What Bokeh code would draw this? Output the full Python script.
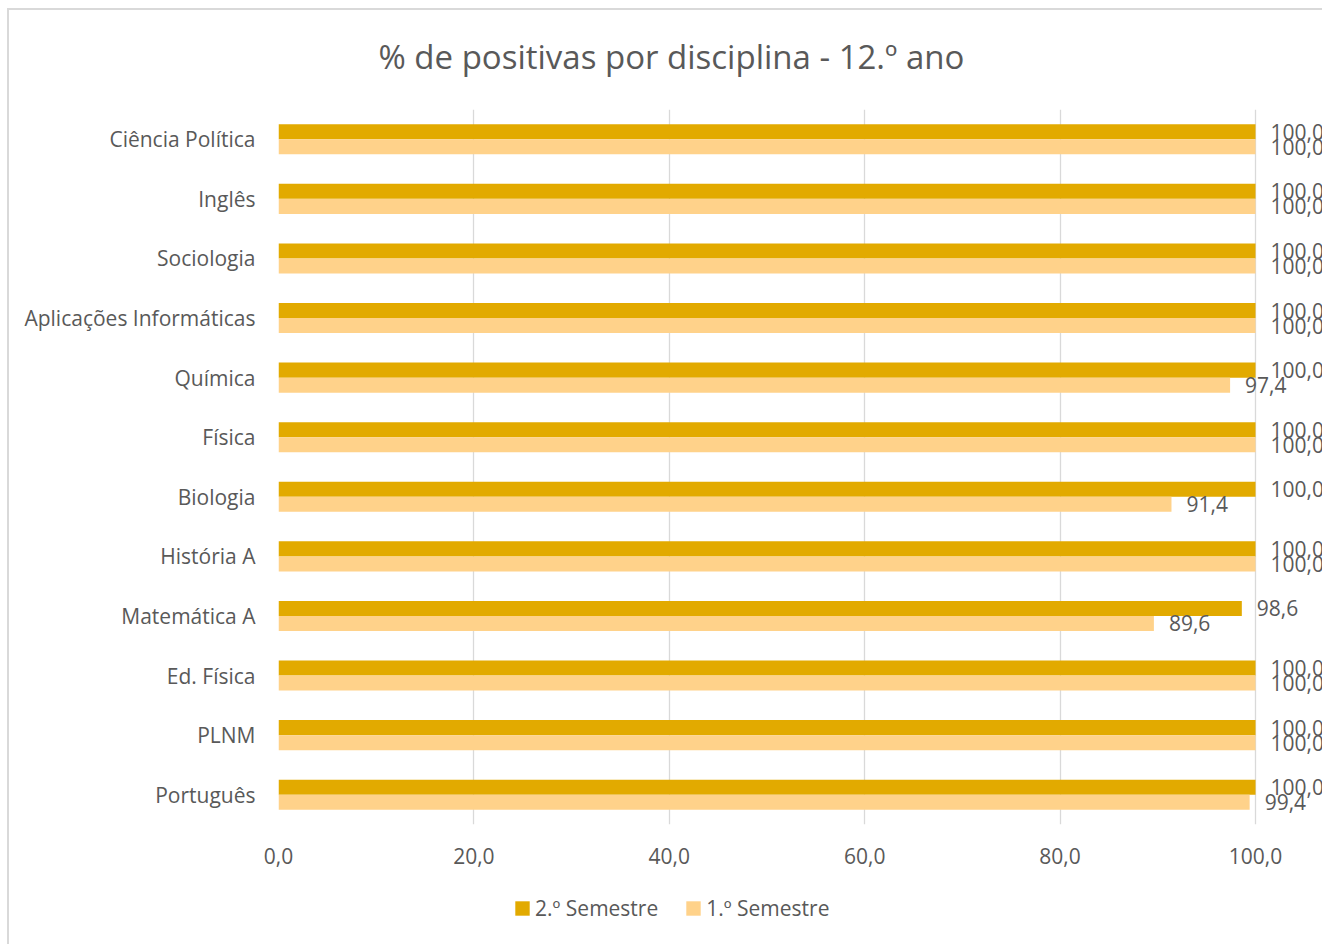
from bokeh.plotting import figure
from bokeh.layouts import column
from bokeh.models import (ColumnDataSource, FactorRange, Range1d, LabelSet, Legend,
                          LegendItem, FixedTicker)
from bokeh.transform import dodge
from bokeh.core.properties import value
from bokeh.embed import file_html
from bokeh.resources import INLINE

# ---- data (bottom to top as drawn) ----
disciplinas = ["Português", "PLNM", "Ed. Física", "Matemática A", "História A",
               "Biologia", "Física", "Química", "Aplicações Informáticas",
               "Sociologia", "Inglês", "Ciência Política"]
sem2 = [100.0, 100.0, 100.0, 98.6, 100.0, 100.0, 100.0, 100.0, 100.0, 100.0, 100.0, 100.0]
sem1 = [99.4, 100.0, 100.0, 89.6, 100.0, 91.4, 100.0, 97.4, 100.0, 100.0, 100.0, 100.0]
x_ticks = [0, 20, 40, 60, 80, 100]
x_tick_labels = ["0,0", "20,0", "40,0", "60,0", "80,0", "100,0"]
series_names = ["2.º Semestre", "1.º Semestre"]
title_text = "% de positivas por disciplina - 12.º ano"

def fmt(v):
    return f"{v:.1f}".replace(".", ",")

src = ColumnDataSource(dict(
    cat=disciplinas, s2=sem2, s1=sem1,
    l2=[fmt(v) for v in sem2], l1=[fmt(v) for v in sem1],
))

DARK = "#E2AA00"
LIGHT = "#FFD28A"
TXT = "#595959"
FONT = "Open Sans"

# frame: 0..100 spans 977px; frame extended to the right edge so value labels show
AXIS_PX = 977
FRAME_W = 1044
x_end = x_ticks[-1] * FRAME_W / AXIS_PX

p = figure(frame_width=FRAME_W, frame_height=715, output_backend="svg",
           toolbar_location=None,
           y_range=FactorRange(factors=disciplinas), x_range=Range1d(0, x_end),
           min_border_left=278, min_border_right=0, min_border_top=108,
           min_border_bottom=57, title=title_text)

p.border_fill_color = None
p.background_fill_color = None

p.title.text_font = FONT
p.title.text_font_size = "33px"
p.title.text_font_style = "normal"
p.title.text_color = TXT
p.title.align = "left"
p.title.offset = 100
p.title.standoff = 62

p.hbar(y=dodge("cat", 0.126, range=p.y_range), right="s2", left=0, height=0.252,
       source=src, fill_color=DARK, line_color=None)
p.hbar(y=dodge("cat", -0.126, range=p.y_range), right="s1", left=0, height=0.252,
       source=src, fill_color=LIGHT, line_color=None)

for col, lab, off in (("s2", "l2", 0.126), ("s1", "l1", -0.126)):
    ls = LabelSet(x=col, y=dodge("cat", off, range=p.y_range), text=lab, source=src,
                  x_offset=15, text_baseline="middle", text_align="left",
                  text_font=value(FONT), text_font_size=value("21px"), text_color=TXT)
    p.add_layout(ls)

p.outline_line_color = None
p.ygrid.grid_line_color = None
p.xgrid.grid_line_color = "#D9D9D9"
p.xgrid.grid_line_width = 1.3

p.xaxis.ticker = FixedTicker(ticks=x_ticks)
p.xaxis.major_label_overrides = dict(zip(x_ticks, x_tick_labels))
for ax in (p.xaxis, p.yaxis):
    ax.axis_line_color = None
    ax.major_tick_line_color = None
    ax.minor_tick_line_color = None
    ax.major_tick_out = 0
    ax.major_tick_in = 0
    ax.minor_tick_out = 0
    ax.major_label_text_font = FONT
    ax.major_label_text_font_size = "21px"
    ax.major_label_text_color = TXT
p.xaxis.major_label_standoff = 23
p.yaxis.major_label_standoff = 23

p.styles = {"box-shadow": "inset 7px 8px 0 0 #FFFFFF, inset 9px 10px 0 0 #D9D9D9"}

# ---- legend strip below the chart (its frame is aligned with the chart's frame) ----
lg = figure(width=1322, height=64, output_backend="svg", toolbar_location=None,
            x_axis_type=None, y_axis_type=None, x_range=Range1d(0, 1), y_range=Range1d(0, 1),
            min_border=0)
lg.border_fill_color = None
lg.background_fill_color = None
lg.outline_line_color = None
lg.grid.visible = False
# zero-width swatch renderers (nothing visible in the strip, only legend glyphs)
sw2 = lg.hbar(y=[-5], left=[0], right=[0], height=0.1, fill_color=DARK, line_color=None)
sw1 = lg.hbar(y=[-5], left=[0], right=[0], height=0.1, fill_color=LIGHT, line_color=None)
legend = Legend(items=[LegendItem(label=series_names[0], renderers=[sw2]),
                       LegendItem(label=series_names[1], renderers=[sw1])],
                orientation="horizontal", location=(235, 23),
                label_text_font=FONT, label_text_font_size="21px", label_text_color=TXT,
                glyph_width=18, glyph_height=18, spacing=26, label_standoff=4,
                padding=0, margin=0,
                border_line_color=None, background_fill_alpha=0)
lg.add_layout(legend, "center")
lg.styles = {"box-shadow": "inset 7px 0 0 0 #FFFFFF, inset 9px 0 0 0 #D9D9D9"}

layout = column(p, lg, spacing=0)
open("out.html", "w").write(file_html(layout, INLINE))
